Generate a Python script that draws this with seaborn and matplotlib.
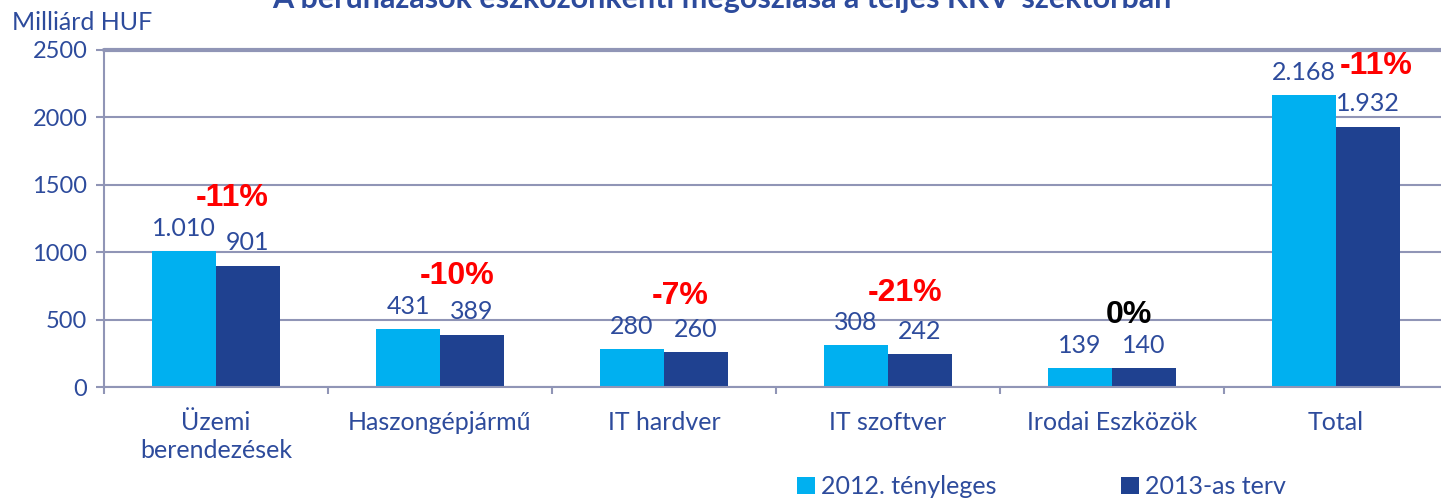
import pandas as pd
import seaborn as sns
import matplotlib.pyplot as plt
from matplotlib.patches import Patch

# data (milliard HUF)
categories = ["Üzemi\nberendezések", "Haszongépjármű", "IT hardver",
              "IT szoftver", "Irodai Eszközök", "Total"]
series = ["2012. tényleges", "2013-as terv"]
actual_2012 = [1010, 431, 280, 308, 139, 2168]
plan_2013 = [901, 389, 260, 242, 140, 1932]
changes = ["-11%", "-10%", "-7%", "-21%", "0%", "-11%"]

light_blue = "#00B0F0"
dark_blue = "#1F4190"
text_blue = "#2D4B9C"
grid_col = "#9095B6"

df = pd.DataFrame({
    "kategoria": categories * 2,
    "ertek": actual_2012 + plan_2013,
    "sorozat": [series[0]] * len(categories) + [series[1]] * len(categories),
})

sns.set_theme(style="white")
plt.rcParams["font.family"] = ["Lato", "DejaVu Sans"]

fig = plt.figure(figsize=(14.41, 4.99), dpi=100)
ax = fig.add_axes([104 / 1441, 112 / 499, 1344 / 1441, 337 / 499])

sns.barplot(data=df, x="kategoria", y="ertek", hue="sorozat",
            palette=[light_blue, dark_blue], width=0.57, saturation=1,
            linewidth=0, legend=False, ax=ax)

ax.set_xlim(-0.5, len(categories) - 0.5)
ax.set_ylim(0, 2500)
ax.set_yticks(range(0, 2501, 500))
ax.set_xlabel("")
ax.set_ylabel("")
ax.grid(axis="y", color=grid_col, linewidth=1.5)
ax.set_axisbelow(True)

for side in ["top", "right"]:
    ax.spines[side].set_visible(False)
for side in ["left", "bottom"]:
    ax.spines[side].set_color(grid_col)
    ax.spines[side].set_linewidth(1.5)
ax.axhline(2500, color=grid_col, linewidth=3, clip_on=False, zorder=0)

ax.tick_params(axis="y", which="major", direction="out", length=6, width=1.5,
               color=grid_col, labelsize=17, labelcolor=text_blue, pad=6, left=True)
ax.tick_params(axis="x", which="major", length=0, labelsize=18,
               labelcolor=text_blue, pad=17)
for lbl in ax.get_xticklabels():
    lbl.set_linespacing(1.3)
ax.set_xticks([i - 0.5 for i in range(len(categories) + 1)], minor=True)
ax.tick_params(axis="x", which="minor", direction="out", length=5, width=1.5,
               color=grid_col, bottom=True)

# value labels in Hungarian number format
for cont, vals in zip(ax.containers, [actual_2012, plan_2013]):
    ax.bar_label(cont, labels=[f"{v:,}".replace(",", ".") for v in vals],
                 padding=8, fontsize=18, color=text_blue)

# percent change labels
for i, ch in enumerate(changes):
    top = max(actual_2012[i], plan_2013[i])
    col = "black" if ch == "0%" else "red"
    if i == len(categories) - 1:
        xy, off = (i + 0.14, top), (6, 21)
    else:
        xy, off = (i, top), (12, 38)
    ax.annotate(ch, xy=xy, xytext=off, textcoords="offset points",
                ha="center", va="center", fontsize=23, fontweight="bold",
                color=col, family="Liberation Sans")

fig.text(12 / 1441, 1 - 22 / 499, "Milliárd HUF", fontsize=18,
         color=text_blue, va="center", ha="left")
fig.text(722 / 1441, 1 - 8 / 499,
         "A beruházások eszközönkénti megoszlása a teljes KKV-szektorban",
         fontsize=22, fontweight="bold", color=text_blue,
         ha="center", va="baseline")

handles = [Patch(facecolor=light_blue, edgecolor="none"),
           Patch(facecolor=dark_blue, edgecolor="none")]
fig.legend(handles, series, loc="lower left", bbox_to_anchor=(797 / 1441, 0.002),
           ncol=2, frameon=False, fontsize=18, labelcolor=text_blue,
           handlelength=0.7, handleheight=0.7, handletextpad=0.25,
           columnspacing=5.0, borderpad=0, borderaxespad=0)

fig.savefig("out.png", dpi=100)
